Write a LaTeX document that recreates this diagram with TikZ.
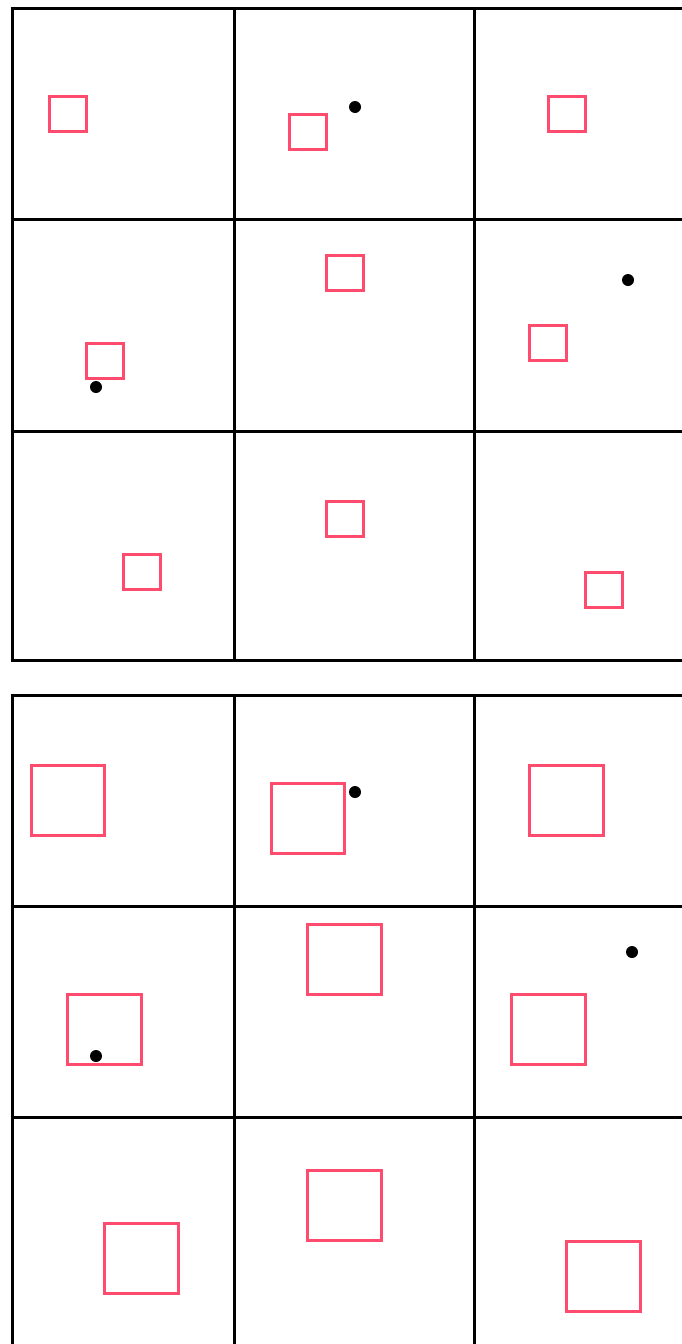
\documentclass[tikz,border=0pt]{standalone}
\definecolor{pinkred}{HTML}{FF4B6E}
\tikzset{
  gridline/.style={line width=3pt, black},
  redbox/.style={draw=pinkred, line width=3pt},
  blackdot/.style={fill=black}
}
\begin{document}
\begin{tikzpicture}[x=1pt,y=-1pt]
\useasboundingbox (0,0) rectangle (682,1344);
\fill[white] (0,0) rectangle (682,1344);
% top grid
\draw[gridline] (10.5,8) -- (690,8);
\draw[gridline] (10.5,219) -- (690,219);
\draw[gridline] (10.5,431) -- (690,431);
\draw[gridline] (10.5,660) -- (690,660);
\draw[gridline] (12,6.5) -- (12,661.5);
\draw[gridline] (234,8) -- (234,660);
\draw[gridline] (474,8) -- (474,660);
% bottom grid
\draw[gridline] (10.5,695) -- (690,695);
\draw[gridline] (10.5,906) -- (690,906);
\draw[gridline] (10.5,1117) -- (690,1117);
\draw[gridline] (12,693.5) -- (12,1350);
\draw[gridline] (234,695) -- (234,1350);
\draw[gridline] (474,695) -- (474,1350);
% top boxes
\draw[redbox] (49,96) rectangle (86,131);
\draw[redbox] (289,114) rectangle (326,149);
\draw[redbox] (548,96) rectangle (585,131);
\draw[redbox] (86,343) rectangle (123,378);
\draw[redbox] (326,255) rectangle (363,290);
\draw[redbox] (529,325) rectangle (566,360);
\draw[redbox] (123,554) rectangle (160,589);
\draw[redbox] (326,501) rectangle (363,536);
\draw[redbox] (585,572) rectangle (622,607);
\fill[blackdot] (355,107) circle (6);
\fill[blackdot] (96,387) circle (6);
\fill[blackdot] (628,280) circle (6);
% bottom boxes
\draw[redbox] (31,765) rectangle (104,835);
\draw[redbox] (271,783) rectangle (344,853);
\draw[redbox] (529,765) rectangle (603,835);
\draw[redbox] (67,994) rectangle (141,1064);
\draw[redbox] (307,924) rectangle (381,994);
\draw[redbox] (511,994) rectangle (585,1064);
\draw[redbox] (104,1223) rectangle (178,1293);
\draw[redbox] (307,1170) rectangle (381,1240);
\draw[redbox] (566,1241) rectangle (640,1311);
\fill[blackdot] (355,792) circle (6);
\fill[blackdot] (96,1056) circle (6);
\fill[blackdot] (632,952) circle (6);
\end{tikzpicture}
\end{document}
